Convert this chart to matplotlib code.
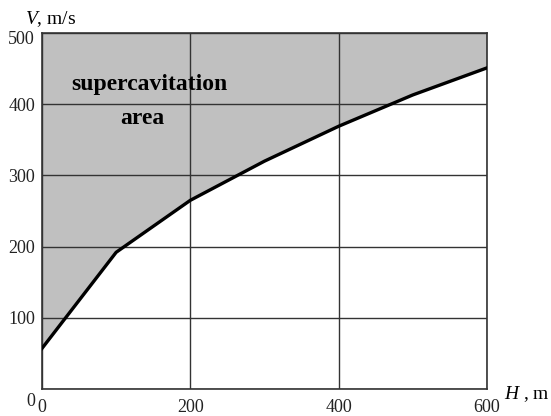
import matplotlib
matplotlib.use("Agg")
import matplotlib.pyplot as plt
from matplotlib.transforms import ScaledTranslation

H = [0, 100, 200, 300, 400, 500, 600]
V = [57, 192, 265, 320, 369, 413, 451]
xticks = [0, 200, 400, 600]
yticks = [0, 100, 200, 300, 400, 500]

plt.rcParams['font.family'] = ['Liberation Serif', 'DejaVu Serif']
plt.rcParams['mathtext.fontset'] = 'custom'
plt.rcParams['mathtext.it'] = 'Liberation Serif:italic'
plt.rcParams['mathtext.rm'] = 'Liberation Serif'

fig = plt.figure(figsize=(5.51, 4.16), dpi=100)
ax = fig.add_axes([0.0762, 0.0649, 0.8076, 0.8558])
ax.set_xlim(0, 600)
ax.set_ylim(0, 500)

ax.fill_between(H, V, 500, color='#c0c0c0', zorder=1, linewidth=0)
ax.set_xticks(xticks)
ax.set_yticks(yticks)
ax.grid(True, color='#333333', linewidth=1.0, zorder=2)
ax.plot(H, V, color='black', linewidth=2.4, zorder=4, solid_joinstyle='round')

ax.tick_params(axis='both', length=0, labelsize=13, colors='#222222')
ax.tick_params(axis='x', pad=7)
ax.tick_params(axis='y', pad=5)
for s in ax.spines.values():
    s.set_color('#333333')
    s.set_linewidth(1.2)
    s.set_zorder(3)

fig.canvas.draw()
for lab, val in zip(ax.get_yticklabels(), yticks):
    dy = 0
    if val == 0:
        dy = -10
    elif val == 500:
        dy = -5
    if dy:
        lab.set_transform(lab.get_transform() + ScaledTranslation(0, dy / 100, fig.dpi_scale_trans))

ax.text(145, 427, 'supercavitation', fontsize=17, fontweight='bold', ha='center', va='center', zorder=5)
ax.text(135, 380, 'area', fontsize=17, fontweight='bold', ha='center', va='center', zorder=5)

fig.text(0.045, 0.954, '$V$, m/s', fontsize=14, ha='left', va='center')
fig.text(0.915, 0.053, '$H$ , m', fontsize=14, ha='left', va='center')

fig.savefig('out.png', dpi=100)
